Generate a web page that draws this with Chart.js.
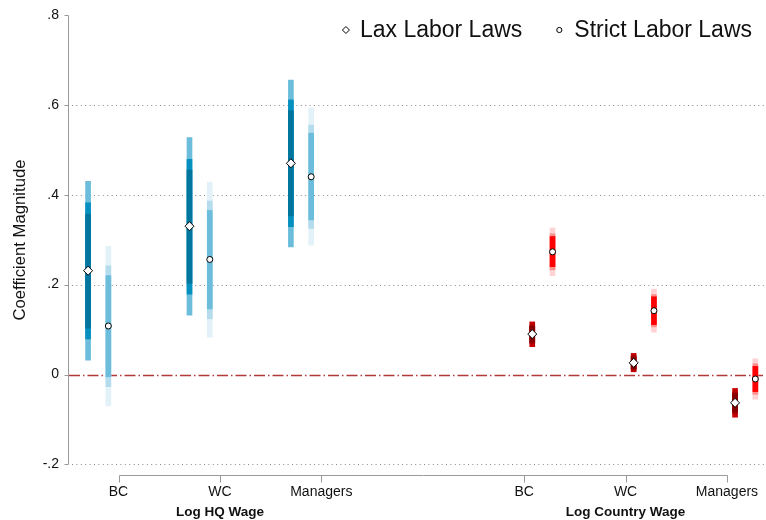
<!DOCTYPE html>
<html>
<head>
<meta charset="utf-8">
<script src="https://cdn.jsdelivr.net/npm/chart.js@4.4.0/dist/chart.umd.min.js"></script>
<style>
  html, body { margin: 0; padding: 0; background: #ffffff; }
  #wrap { width: 766px; height: 520px; }
</style>
</head>
<body>
<div id="wrap"><canvas id="coefplot" width="766" height="520"></canvas></div>
<script>
// ---- data ---------------------------------------------------------------
const categories   = ['BC', 'WC', 'Managers', 'BC', 'WC', 'Managers'];
const categoryPos  = [1, 2, 3, 5, 6, 7];
const groupTitles  = ['Log HQ Wage', 'Log Country Wage'];
const groupTitlePos = [2, 6];
const yTicks       = [-0.2, 0, 0.2, 0.4, 0.6, 0.8];
const seriesNames  = ['Lax Labor Laws', 'Strict Labor Laws'];

// point estimates
const laxCoef    = [0.231, 0.330, 0.470, 0.090, 0.026, -0.063];
const strictCoef = [0.108, 0.256, 0.440, 0.273, 0.142, -0.010];

// confidence intervals [low, high] at 90 / 95 / 99 percent
const laxCI90 = [[0.103, 0.357], [0.203, 0.455], [0.353, 0.587], [0.072, 0.107], [0.013, 0.039], [-0.083, -0.043]];
const laxCI95 = [[0.079, 0.382], [0.179, 0.479], [0.329, 0.611], [0.069, 0.110], [0.010, 0.042], [-0.087, -0.039]];
const laxCI99 = [[0.032, 0.430], [0.132, 0.527], [0.284, 0.655], [0.062, 0.117], [0.006, 0.047], [-0.095, -0.031]];

const strictCI90 = [[-0.005, 0.220], [0.146, 0.365], [0.344, 0.537], [0.240, 0.307], [0.111, 0.173], [-0.038, 0.018]];
const strictCI95 = [[-0.027, 0.242], [0.124, 0.386], [0.325, 0.555], [0.233, 0.313], [0.106, 0.178], [-0.044, 0.024]];
const strictCI99 = [[-0.070, 0.285], [0.083, 0.428], [0.288, 0.593], [0.220, 0.326], [0.094, 0.190], [-0.055, 0.035]];

// ---- styling ------------------------------------------------------------
const FONT = "'Liberation Sans', Arial, Helvetica, sans-serif";
// horizontal shift of each series inside its category (HQ block, country block)
const laxShift    = [-0.30, -0.30, -0.30, 0.08, 0.08, 0.08];
const strictShift = [-0.10, -0.10, -0.10, 0.28, 0.28, 0.28];

const blueLax    = { c90: '#00759e', c95: '#0590c0', c99: '#6bbddb' };
const blueStrict = { c90: '#6bbddb', c95: '#b4dced', c99: '#e3f2f9' };
const redLax     = { c90: '#860000', c95: '#a60000', c99: '#c40000' };
const redStrict  = { c90: '#ff0000', c95: '#ff8f8f', c99: '#ffd3d3' };

function colorsFor(blue, red, key) {
  return categories.map((_, i) => (i < 3 ? blue[key] : red[key]));
}

function ciDataset(label, ci, shift, blue, red, key, order) {
  return {
    type: 'bar',
    label: label,
    data: ci.map((r, i) => ({ x: categoryPos[i] + shift[i], y: r })),
    backgroundColor: colorsFor(blue, red, key),
    borderWidth: 0,
    barThickness: 5,
    grouped: false,
    order: order
  };
}

function pointDataset(label, coef, shift, style, radius) {
  return {
    type: 'scatter',
    label: label,
    data: coef.map((v, i) => ({ x: categoryPos[i] + shift[i], y: v })),
    pointStyle: style,
    pointRadius: radius,
    pointBackgroundColor: '#ffffff',
    pointBorderColor: '#000000',
    pointBorderWidth: 1,
    order: 0
  };
}

const datasets = [
  pointDataset(seriesNames[0], laxCoef, laxShift, 'rectRot', 4.5),
  pointDataset(seriesNames[1], strictCoef, strictShift, 'circle', 3),
  ciDataset('lax90', laxCI90, laxShift, blueLax, redLax, 'c90', 1),
  ciDataset('strict90', strictCI90, strictShift, blueStrict, redStrict, 'c90', 1),
  ciDataset('lax95', laxCI95, laxShift, blueLax, redLax, 'c95', 2),
  ciDataset('strict95', strictCI95, strictShift, blueStrict, redStrict, 'c95', 2),
  ciDataset('lax99', laxCI99, laxShift, blueLax, redLax, 'c99', 3),
  ciDataset('strict99', strictCI99, strictShift, blueStrict, redStrict, 'c99', 3)
];

function fmtTick(v) {
  if (Math.abs(v) < 1e-9) return '0';
  const s = Math.abs(v).toFixed(1).replace(/^0/, '');
  return (v < 0 ? '-' : '') + s;
}

// axes, grid, zero reference line, group titles and legend
const framePlugin = {
  id: 'frame',
  beforeDatasetsDraw(chart) {
    const { ctx, chartArea: a, scales: { y } } = chart;
    ctx.save();
    ctx.strokeStyle = '#8a8a8a';
    ctx.lineWidth = 1;
    ctx.setLineDash([1, 3.4]);
    yTicks.forEach(v => {
      if (Math.abs(v) < 1e-9 || v === yTicks[yTicks.length - 1]) return;
      const py = Math.round(y.getPixelForValue(v)) + 0.5;
      ctx.beginPath();
      ctx.moveTo(a.left + 4, py);
      ctx.lineTo(a.right, py);
      ctx.stroke();
    });
    const pz = Math.round(y.getPixelForValue(0)) + 0.5;
    ctx.strokeStyle = '#b03a3a';
    ctx.lineWidth = 1.4;
    ctx.setLineDash([11, 3, 1.5, 3]);
    ctx.beginPath();
    ctx.moveTo(a.left + 1, pz);
    ctx.lineTo(a.right - 3, pz);
    ctx.stroke();
    ctx.restore();
  },
  afterDraw(chart) {
    const { ctx, chartArea: a, scales: { x, y } } = chart;
    ctx.save();
    ctx.strokeStyle = '#9a9a9a';
    ctx.lineWidth = 1;
    ctx.setLineDash([]);
    // y axis line and ticks
    const ax = Math.round(a.left) + 0.5;
    const yTop = Math.round(y.getPixelForValue(yTicks[yTicks.length - 1])) + 0.5;
    const yBot = Math.round(y.getPixelForValue(yTicks[0])) + 0.5;
    ctx.beginPath();
    ctx.moveTo(ax, yTop);
    ctx.lineTo(ax, yBot);
    yTicks.forEach(v => {
      const py = Math.round(y.getPixelForValue(v)) + 0.5;
      ctx.moveTo(ax - 4, py);
      ctx.lineTo(ax, py);
    });
    ctx.stroke();
    // x axis line and ticks
    const by = Math.round(a.bottom) + 0.5;
    const x0 = Math.round(x.getPixelForValue(categoryPos[0])) + 0.5;
    const x1 = Math.round(x.getPixelForValue(categoryPos[categoryPos.length - 1])) + 0.5;
    ctx.beginPath();
    ctx.moveTo(x0, by);
    ctx.lineTo(x1, by);
    categoryPos.forEach(v => {
      const px = Math.round(x.getPixelForValue(v)) + 0.5;
      ctx.moveTo(px, by);
      ctx.lineTo(px, by + 7);
    });
    ctx.stroke();
    // group titles
    ctx.fillStyle = '#111111';
    ctx.font = 'bold 13.5px ' + FONT;
    ctx.textAlign = 'center';
    ctx.textBaseline = 'middle';
    groupTitles.forEach((t, i) => {
      ctx.fillText(t, x.getPixelForValue(groupTitlePos[i]), 512);
    });
    // legend
    ctx.font = '23px ' + FONT;
    ctx.textAlign = 'left';
    ctx.textBaseline = 'middle';
    const ly = 30;
    const right = chart.width - 14;
    const w2 = ctx.measureText(seriesNames[1]).width;
    const w1 = ctx.measureText(seriesNames[0]).width;
    const t2 = right - w2;
    const m2 = t2 - 15;
    const t1 = m2 - 37 - w1;
    const m1 = t1 - 14;
    ctx.fillText(seriesNames[0], t1, ly + 1);
    ctx.fillText(seriesNames[1], t2, ly + 1);
    ctx.fillStyle = '#ffffff';
    ctx.strokeStyle = '#000000';
    ctx.lineWidth = 1;
    ctx.beginPath();
    ctx.moveTo(m1, ly - 3.5);
    ctx.lineTo(m1 + 3.5, ly);
    ctx.lineTo(m1, ly + 3.5);
    ctx.lineTo(m1 - 3.5, ly);
    ctx.closePath();
    ctx.fill();
    ctx.stroke();
    ctx.beginPath();
    ctx.arc(m2, ly, 2.6, 0, Math.PI * 2);
    ctx.fill();
    ctx.stroke();
    ctx.restore();
  }
};

new Chart(document.getElementById('coefplot'), {
  type: 'bar',
  data: { datasets: datasets },
  options: {
    responsive: false,
    devicePixelRatio: 1,
    animation: false,
    layout: { autoPadding: false, padding: { top: 5, right: 0, bottom: 0, left: 0 } },
    plugins: {
      legend: { display: false },
      tooltip: { enabled: false }
    },
    scales: {
      x: {
        type: 'linear',
        offset: false,
        min: 0.502,
        max: 7.385,
        grid: { display: false, drawTicks: false, tickLength: 0, offset: false },
        border: { display: false },
        afterBuildTicks: s => { s.ticks = categoryPos.map(v => ({ value: v })); },
        afterFit: s => { s.height = 45; s.paddingLeft = 0; s.paddingRight = 0; },
        ticks: {
          autoSkip: false,
          maxRotation: 0,
          padding: 9,
          color: '#111111',
          font: { family: FONT, size: 14 },
          callback: (v, i) => categories[i]
        }
      },
      y: {
        type: 'linear',
        min: -0.2236,
        max: 0.8222,
        grid: { display: false, drawTicks: false, tickLength: 0 },
        border: { display: false },
        afterBuildTicks: s => { s.ticks = yTicks.map(v => ({ value: v })); },
        afterFit: s => { s.width = 68; s.paddingTop = 0; s.paddingBottom = 0; },
        ticks: {
          padding: 9,
          color: '#111111',
          font: { family: FONT, size: 14 },
          callback: v => fmtTick(v)
        },
        title: {
          display: true,
          text: 'Coefficient Magnitude',
          color: '#111111',
          font: { family: FONT, size: 16.7 },
          padding: { top: 10, bottom: 0 }
        }
      }
    }
  },
  plugins: [framePlugin]
});
</script>
</body>
</html>
